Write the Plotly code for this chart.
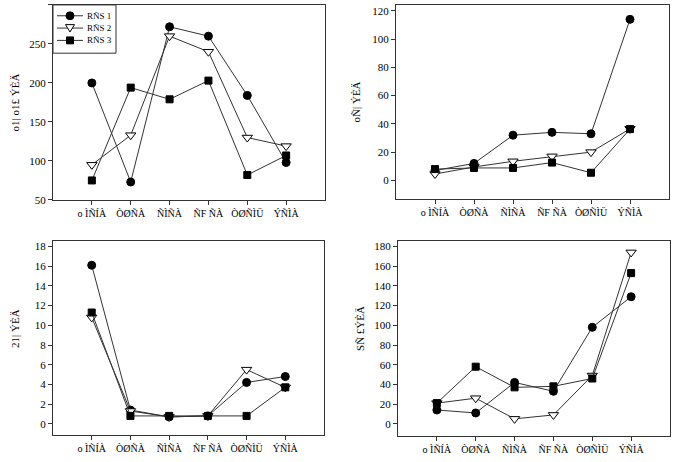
import plotly.graph_objects as go

W, H = 674, 462

# ---------------- data ----------------
categories = ["o ÌÑÍÀ", "ÒØÑÀ", "ÑÌÑÀ", "ÑF ÑÀ", "ÒØÑÌÜ", "ÝÑÌÀ"]
series_names = ["RÑS 1", "RÑS 2", "RÑS 3"]

tl_s1 = [200, 73, 272, 260, 184, 98]
tl_s2 = [95, 133, 260, 240, 130, 119]
tl_s3 = [75, 194, 179, 203, 82, 107]

tr_s1 = [7, 12, 32, 34, 33, 114]
tr_s2 = [4.5, 9.5, 13.5, 17, 20, 36.5]
tr_s3 = [8, 8.8, 8.8, 12.6, 5.4, 36.3]

bl_s1 = [16.1, 1.4, 0.7, 0.8, 4.2, 4.8]
bl_s2 = [10.8, 1.3, 0.7, 0.8, 5.5, 3.7]
bl_s3 = [11.3, 0.8, 0.8, 0.8, 0.8, 3.7]

br_s1 = [14, 11, 42, 33, 98, 129]
br_s2 = [21, 26, 5, 9, 49, 174]
br_s3 = [21, 58, 37, 38, 46, 153]

tl_ticks = [50, 100, 150, 200, 250, 300]
tr_ticks = [0, 20, 40, 60, 80, 100, 120]
bl_ticks = [0, 2, 4, 6, 8, 10, 12, 14, 16, 18]
br_ticks = [0, 20, 40, 60, 80, 100, 120, 140, 160, 180]

y_titles = ["o1| o1£ ÝÈÄ", "oÑ| ÝÈÄ", "21| ÝÈÄ", "SÑ £ÝÈÄ"]

# ---------------- styles ----------------
FONT = "Liberation Serif"
LINE = "#333333"
marker_styles = [
    dict(symbol="circle", size=8, color="black", line=dict(color="black", width=1)),
    dict(symbol="triangle-down", size=9, color="white", line=dict(color="black", width=1)),
    dict(symbol="square", size=7, color="black", line=dict(color="black", width=1)),
]


def fx(x):
    return x / W


def fy(y):
    return 1 - y / H


panels = [
    ("x", "y", (53, 325), (4, 202), [tl_s1, tl_s2, tl_s3], tl_ticks, [50, 300]),
    ("x2", "y2", (396, 669), (4, 201.5), [tr_s1, tr_s2, tr_s3], tr_ticks, [-13.5, 124.2]),
    ("x3", "y3", (53, 324), (244, 441), [bl_s1, bl_s2, bl_s3], bl_ticks, [-1.17, 18.53]),
    ("x4", "y4", (398, 670), (244, 442), [br_s1, br_s2, br_s3], br_ticks, [-12.7, 185.3]),
]

fig = go.Figure()
layout = dict(
    width=W, height=H,
    margin=dict(l=0, r=0, t=0, b=0),
    paper_bgcolor="white", plot_bgcolor="white",
    showlegend=False,
    font=dict(family=FONT, size=11, color="black"),
)

xidx = list(range(len(categories)))

for xa, ya, (x0, x1), (y0, y1), series, ticks, yr in panels:
    for s, vals in enumerate(series):
        fig.add_trace(go.Scatter(
            x=xidx, y=vals, mode="lines+markers",
            name=series_names[s],
            line=dict(color=LINE, width=1),
            marker=marker_styles[s],
            xaxis=xa, yaxis=ya,
        ))
    xkey = "xaxis" + xa[1:]
    ykey = "yaxis" + ya[1:]
    layout[xkey] = dict(
        domain=[fx(x0), fx(x1)], anchor=ya,
        range=[-1, len(categories)],
        tickmode="array", tickvals=xidx, ticktext=categories,
        tickangle=0,
        ticks="outside", ticklen=4, tickcolor=LINE,
        showline=True, linecolor=LINE, linewidth=1, mirror=True,
        showgrid=False, zeroline=False,
        tickfont=dict(family=FONT, size=10, color="black"),
    )
    layout[ykey] = dict(
        domain=[fy(y1), fy(y0)], anchor=xa,
        range=yr,
        tickmode="array", tickvals=ticks,
        ticks="outside", ticklen=4, tickcolor=LINE,
        showline=True, linecolor=LINE, linewidth=1, mirror=True,
        showgrid=False, zeroline=False,
        tickfont=dict(family=FONT, size=11, color="black"),
    )

# y-axis titles as rotated annotations
title_pos = [(15, 103), (356, 103), (15, 333), (360, 333)]
annotations = []
for t, (tx, ty) in zip(y_titles, title_pos):
    annotations.append(dict(
        x=fx(tx), y=fy(ty), xref="paper", yref="paper",
        text=t, showarrow=False, textangle=-90,
        font=dict(family=FONT, size=11, color="black"),
        xanchor="center", yanchor="middle",
    ))

# legend (top-left panel), drawn as decoration
shapes = []
shapes.append(dict(type="rect", xref="paper", yref="paper",
                   x0=fx(53), x1=fx(116), y0=fy(53), y1=fy(4),
                   line=dict(color=LINE, width=1), fillcolor="white", layer="above"))
leg_y = [15, 27.5, 40]
for i, ly in enumerate(leg_y):
    shapes.append(dict(type="line", xref="paper", yref="paper",
                       x0=fx(57), x1=fx(83), y0=fy(ly), y1=fy(ly),
                       line=dict(color=LINE, width=1), layer="above"))
    annotations.append(dict(
        x=fx(85), y=fy(ly), xref="paper", yref="paper",
        text=series_names[i], showarrow=False,
        xanchor="left", yanchor="middle",
        font=dict(family=FONT, size=9, color="black"),
    ))
shapes.append(dict(type="circle", xref="paper", yref="paper",
                   x0=fx(66), x1=fx(74), y0=fy(19), y1=fy(11),
                   line=dict(color="black", width=1), fillcolor="black", layer="above"))
tri = "M {:.5f},{:.5f} L {:.5f},{:.5f} L {:.5f},{:.5f} Z".format(
    fx(65.5), fy(24), fx(74.5), fy(24), fx(70), fy(31.5))
shapes.append(dict(type="path", xref="paper", yref="paper", path=tri,
                   line=dict(color="black", width=1), fillcolor="white", layer="above"))
shapes.append(dict(type="rect", xref="paper", yref="paper",
                   x0=fx(66.5), x1=fx(73.5), y0=fy(43.5), y1=fy(36.5),
                   line=dict(color="black", width=1), fillcolor="black", layer="above"))

layout["annotations"] = annotations
layout["shapes"] = shapes
fig.update_layout(**layout)

fig.write_html("out.html")
